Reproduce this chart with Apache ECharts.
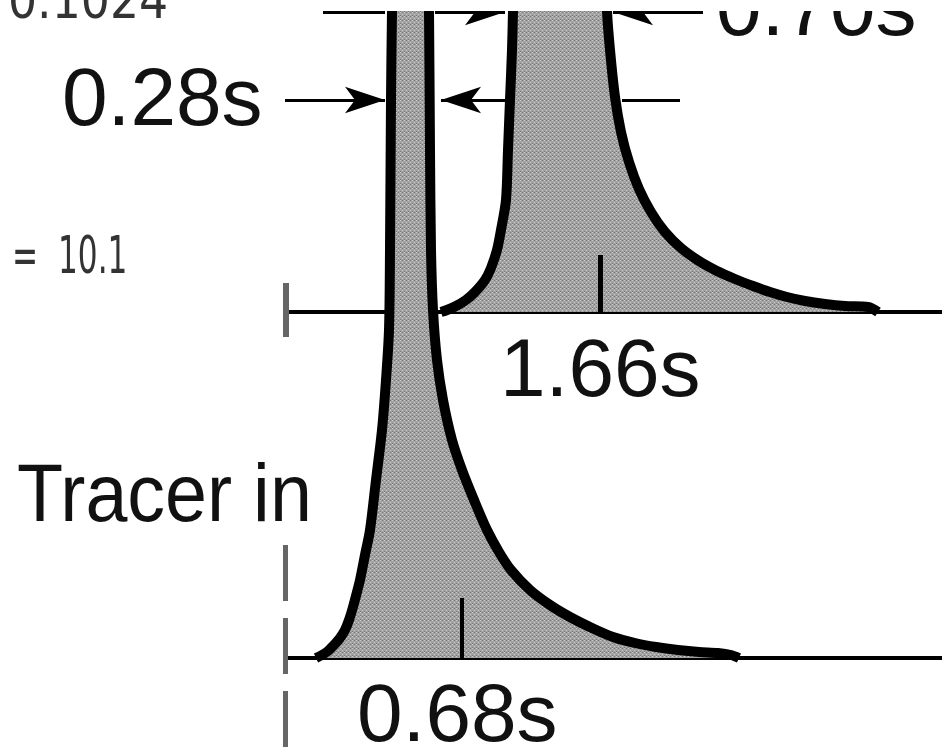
<!DOCTYPE html>
<html>
<head>
<meta charset="utf-8">
<title>Tracer residence time</title>
<script src="https://cdn.jsdelivr.net/npm/echarts@6/dist/echarts.min.js"></script>
<style>
    html, body { margin: 0; padding: 0; background: #fff; }
    #chart { width: 942px; height: 748px; }
</style>
</head>
<body>
<div id="chart"></div>
<script>
    // schematic units: x measured from the tracer injection point, y above each baseline
    // narrow peak (lower trace, mean 0.68s)
    var narrowPeak = [
        [3.1, 0], [3.7, 0.3], [4.3, 0.7], [4.8, 1.2], [5.5, 2.0], [6.0, 2.8], [6.4, 3.8],
        [6.8, 5.1], [7.2, 6.6], [7.5, 7.8], [8.0, 10.3], [8.5, 12.8], [9.1, 17.8], [9.7, 22.8],
        [10.1, 27.8], [10.4, 32.8], [10.5, 40.8], [10.6, 55.8], [10.7, 64.7], [10.8, 69.8],
        [12.5, 72.8],
        [14.3, 69.8], [14.4, 64.7], [14.5, 50.8], [14.6, 40.8], [14.8, 34.8], [15.2, 29.8],
        [15.8, 25.8], [16.7, 21.8], [17.7, 18.8], [18.9, 15.8], [20.2, 12.8], [21.4, 10.6],
        [22.6, 8.8], [24.5, 6.8], [26.5, 5.3], [28.5, 4.1], [30.7, 3.0], [32.8, 2.1],
        [35.0, 1.5], [37.1, 1.1], [39.3, 0.8], [41.4, 0.6], [43.3, 0.5], [44.6, 0.3], [45.4, 0]
    ];
    // wide peak (upper trace, mean 1.66s)
    var widePeak = [
        [15.6, 0], [16.2, 0.2], [17.1, 0.6], [18.1, 1.2], [19.0, 2.0], [20.0, 3.2], [20.6, 4.4],
        [21.2, 6.2], [21.6, 8.2], [22.1, 11.2], [22.3, 16.2], [22.5, 21.2], [22.7, 26.2],
        [22.8, 30.1], [22.9, 35.2],
        [27.5, 39.2],
        [32.1, 35.2], [32.2, 30.1], [32.5, 26.2], [33.0, 21.5], [33.6, 18.0], [34.4, 15.0],
        [35.4, 12.3], [36.6, 10.0], [38.0, 8.0], [39.6, 6.4], [41.4, 5.1], [43.2, 4.1],
        [45.0, 3.3], [46.8, 2.6], [48.5, 2.0], [50.2, 1.5], [52.0, 1.1], [54.0, 0.8],
        [56.0, 0.6], [58.3, 0.5], [59.3, 0]
    ];
    // mean markers [x, height]
    var narrowMean = [17.7, 6.0];
    var wideMean = [31.5, 5.7];
    // width bars (lower-trace units): level, left edge, right edge
    var narrowWidth = [55.8, 10.0, 15.6];
    var wideWidth = [64.6, 22.0, 32.8];

    var labelNarrowWidth = '0.28s';
    var labelWideWidth = '0.70s';
    var labelWideMean = '1.66s';
    var labelNarrowMean = '0.68s';
    var labelTracer = 'Tracer in';
    var noteTop = '0.1024';
    var noteMid = '=  10.1';

    function stipple() {
        var c = document.createElement('canvas');
        c.width = 4;
        c.height = 4;
        var ctx = c.getContext('2d');
        ctx.fillStyle = '#a2a2a2';
        ctx.fillRect(0, 0, 4, 4);
        ctx.fillStyle = '#cacaca';
        ctx.fillRect(0, 0, 1, 1);
        ctx.fillRect(2, 2, 1, 1);
        ctx.fillStyle = '#7a7a7a';
        ctx.fillRect(2, 0, 1, 1);
        ctx.fillRect(0, 3, 1, 1);
        return c;
    }
    var fill = { image: stipple(), repeat: 'repeat' };

    var chart = echarts.init(document.getElementById('chart'));

    var axisX = function (idx) {
        return {
            gridIndex: idx, type: 'value', min: 0, max: 65.7,
            axisLine: { onZero: true, lineStyle: { color: '#000', width: 4 } },
            axisTick: { show: false },
            axisLabel: { show: false },
            splitLine: { show: false }
        };
    };
    var peakStyle = {
        type: 'line',
        symbol: 'none',
        smooth: 0.3,
        silent: true,
        lineStyle: { color: '#000', width: 10, join: 'round' },
        areaStyle: { color: fill, opacity: 1 }
    };
    var textFont = '82px "Liberation Sans"';
    var handFont = '400 52px "DejaVu Sans"';

    chart.setOption({
        animation: false,
        backgroundColor: '#fff',
        grid: [
            { left: 285, right: 0, top: 11, bottom: 436 },
            // lower trace: baseline at y = 0, runs down to the bottom edge for the injection mark
            { left: 285, right: 0, top: 11, bottom: 0 }
        ],
        xAxis: [axisX(0), axisX(1)],
        yAxis: [
            { gridIndex: 0, min: 0, max: 30.1, show: false },
            { gridIndex: 1, min: -9.0, max: 64.7, show: false }
        ],
        series: [
            Object.assign({}, peakStyle, {
                xAxisIndex: 0, yAxisIndex: 0, data: widePeak,
                markLine: {
                    silent: true, symbol: ['none', 'none'], label: { show: false },
                    lineStyle: { color: '#000', width: 5, type: 'solid' },
                    data: [[{ coord: [wideMean[0], 0] }, { coord: [wideMean[0], wideMean[1]] }]]
                }
            }),
            Object.assign({}, peakStyle, {
                xAxisIndex: 1, yAxisIndex: 1, data: narrowPeak,
                markLine: {
                    silent: true, symbol: ['none', 'none'], label: { show: false },
                    lineStyle: { color: '#000', width: 4, type: 'solid' },
                    data: [[{ coord: [narrowMean[0], 0] }, { coord: [narrowMean[0], narrowMean[1]] }]]
                }
            }),
            {
                // annotation arrows, injection mark
                type: 'line', xAxisIndex: 1, yAxisIndex: 1, data: [], clip: false, silent: true,
                markLine: {
                    silent: true, symbol: ['none', 'none'], symbolSize: [20, 40],
                    label: { show: false }, emphasis: { disabled: true },
                    lineStyle: { color: '#000', width: 3, type: 'solid' },
                    data: [
                        [{ coord: [0, narrowWidth[0]] },
                         { coord: [narrowWidth[1], narrowWidth[0]], symbol: 'arrow' }],
                        [{ coord: [22.0, narrowWidth[0]] },
                         { coord: [narrowWidth[2], narrowWidth[0]], symbol: 'arrow' }],
                        [{ coord: [33.7, narrowWidth[0]] }, { coord: [39.5, narrowWidth[0]] }],
                        [{ coord: [3.8, wideWidth[0]] }, { coord: [10.0, wideWidth[0]] }],
                        [{ coord: [15.0, wideWidth[0]] },
                         { coord: [wideWidth[1], wideWidth[0]], symbol: 'arrow' }],
                        [{ coord: [41.8, wideWidth[0]] },
                         { coord: [wideWidth[2], wideWidth[0]], symbol: 'arrow' }],
                        [{ coord: [0.1, 37.5], lineStyle: { color: '#666', width: 6 } },
                         { coord: [0.1, 32.1] }],
                        [{ coord: [0, 11.3], lineStyle: { color: '#666', width: 5, type: [56, 17] } },
                         { coord: [0, -9.0] }]
                    ]
                }
            }
        ],
        graphic: [
            { type: 'text', x: 62, y: 102, style: { text: labelNarrowWidth, font: textFont, fill: '#111', verticalAlign: 'middle' } },
            { type: 'text', x: 716, y: 12, style: { text: labelWideWidth, font: textFont, fill: '#111', verticalAlign: 'middle' } },
            { type: 'text', x: 500, y: 373, style: { text: labelWideMean, font: textFont, fill: '#111', verticalAlign: 'middle' } },
            { type: 'text', x: 357, y: 718, style: { text: labelNarrowMean, font: textFont, fill: '#111', verticalAlign: 'middle' } },
            { type: 'text', x: 17, y: 498, scaleX: 0.92, style: { text: labelTracer, font: textFont, fill: '#111', verticalAlign: 'middle' } },
            // top edge of the scanned figure
            { type: 'rect', z: 100, shape: { x: 180, y: 0, width: 762, height: 11 }, style: { fill: '#fff' } },
            // handwritten notes
            { type: 'text', x: 8, y: 4, z: 101, scaleX: 0.88, style: { text: noteTop, font: handFont, fill: '#333', verticalAlign: 'middle' } },
            { type: 'text', x: 12, y: 259, z: 101, scaleX: 0.6, style: { text: noteMid, font: handFont, fill: '#333', verticalAlign: 'middle' } }
        ]
    });
</script>
</body>
</html>
